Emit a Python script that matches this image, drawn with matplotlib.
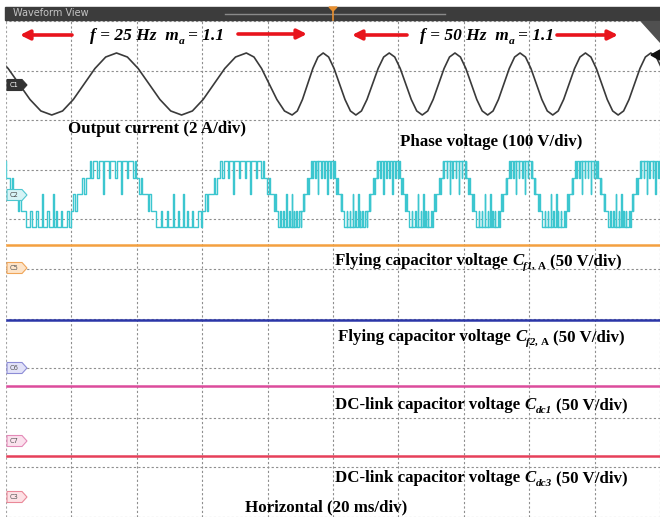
import matplotlib
matplotlib.use("Agg")
import matplotlib.pyplot as plt
from matplotlib.patches import Rectangle, Polygon

# scope screen: x in ms (20 ms/div), y in divisions (0 = bottom, 10 = top)
# output current: times of peaks/troughs (ms), first one is a peak
cur_ext_ms = [-6.0, 14.0, 33.8, 53.7, 73.5, 87.5, 97.0, 107.0, 117.2, 127.3,
              137.3, 147.3, 157.2, 167.2, 177.2, 187.2, 197.2, 207.2]
cur_center = 8.73
cur_amp = 0.625
# shape of one half cycle (fraction of half cycle, value)
cur_shape_f = [0.0, 0.167, 0.333, 0.5, 0.667, 0.833]
cur_shape_v = [1.0, 0.87, 0.5, 0.0, -0.5, -0.87]

# phase voltage: zero crossings (ms), first half cycle is positive
v_zero_ms = [-17.1, 2.7, 22.6, 42.4, 62.8, 81.4, 91.8, 101.8, 111.9, 121.6,
             132.0, 142.1, 152.4, 162.2, 172.6, 182.3, 192.4, 202.1]
v_center = 6.51
v_step = 0.333
pos_f = [0.00, 0.04, 0.06, 0.09, 0.15, 0.17, 0.20, 0.27, 0.29, 0.36, 0.375, 0.45, 0.47,
         0.55, 0.57, 0.64, 0.655, 0.73, 0.75, 0.82, 0.85, 0.87, 0.92, 0.95, 0.965]
pos_l = [0, 1, 0, 1, 2, 1, 2, 1, 2, 0, 2, 1, 2, 1, 2, 0, 2, 1, 2, 1, 2, 1, 0, 1, 0]
neg_f = [0.00, 0.05, 0.07, 0.10, 0.17, 0.24, 0.26, 0.33, 0.35, 0.42, 0.435, 0.50, 0.52,
         0.58, 0.595, 0.63, 0.65, 0.71, 0.73, 0.80, 0.84, 0.86, 0.90, 0.93, 0.95]
neg_l = [0, -1, 0, -1, -2, -1, -2, -1, -2, 0, -2, -1, -2, 0, -2, -1, -2, -1, -2, -1, -2, -1, 0, -1, 0]

# dc traces (div)
dc_names = ["Cf1", "Cf2", "Cdc1", "Cdc3"]
dc_levels = [5.48, 3.97, 2.64, 1.23]
dc_colors = ["#f4a040", "#2b36a8", "#dc4c9c", "#e6405a"]

# channel tags: label, y (px)
tag_labels = ["C1", "C2", "C5", "C6", "C7", "C3"]
tag_y = [85, 195, 268, 368, 441, 497]
tag_fc = ["#333333", "#d6f3f5", "#fde4c9", "#e2e2f8", "#fbe1ed", "#fde1e5"]
tag_ec = ["#333333", "#4fc6cf", "#f0a558", "#8c8cd6", "#e48ab8", "#ea8898"]
tag_tc = ["white", "#444444", "#555555", "#555555", "#555555", "#555555"]

# build traces
t_cur, y_cur = [], []
for k in range(len(cur_ext_ms) - 1):
    a, b = cur_ext_ms[k], cur_ext_ms[k + 1]
    s = 1 if k % 2 == 0 else -1
    for f, v in zip(cur_shape_f, cur_shape_v):
        t_cur.append(a + f * (b - a))
        y_cur.append(cur_center + s * v * cur_amp)
t_cur.append(cur_ext_ms[-1])
y_cur.append(cur_center - cur_amp)

t_v, y_v = [], []
for k in range(len(v_zero_ms) - 1):
    a, b = v_zero_ms[k], v_zero_ms[k + 1]
    ff, ll = (pos_f, pos_l) if k % 2 == 0 else (neg_f, neg_l)
    for f, l in zip(ff, ll):
        t_v.append(a + f * (b - a))
        y_v.append(v_center + l * v_step)
t_v.append(v_zero_ms[-1])
y_v.append(v_center)

fig = plt.figure(figsize=(6.6, 5.17), dpi=100)
ax = fig.add_axes([0, 0, 1, 496 / 517])
ax.set_xlim(-6 * 20 / 65.6, 654 * 20 / 65.6)
ax.set_ylim(0, 10)
ax.set_xticks(range(0, 201, 20))
ax.set_yticks(range(0, 11))
ax.tick_params(length=0, labelbottom=False, labelleft=False)
for sp in ax.spines.values():
    sp.set_visible(False)
ax.grid(True, color="#8e8e8e", ls=(0, (2, 2)), lw=0.8)
ax.set_axisbelow(True)

ax.plot(t_cur, y_cur, color="#3a3a3a", lw=1.2)
ax.step(t_v, y_v, where="post", color="#3cc6cf", lw=1.0)
for lv, c in zip(dc_levels, dc_colors):
    ax.plot([0, 200], [lv, lv], color=c, lw=1.8)

# overlay in pixel coordinates
ov = fig.add_axes([0, 0, 1, 1])
ov.set_xlim(0, 660)
ov.set_ylim(517, 0)
ov.axis("off")

ov.add_patch(Rectangle((0, 21), 5.4, 496, color="white", zorder=0))
ov.add_patch(Rectangle((5, 7), 655, 13, color="#3c3c3c", zorder=1))
ov.text(13, 13.5, "Waveform View", fontsize=7, color="#c4c4c4", va="center", ha="left")
ov.plot([225, 445], [13.5, 13.5], color="#8a8a8a", lw=1, zorder=2)
ov.add_patch(Polygon([(329, 7), (337, 7), (333, 11)], color="#e89030", zorder=3))
ov.plot([333, 333], [9, 20], color="#e89030", lw=1.2, zorder=3)
ov.add_patch(Polygon([(641, 21), (660, 21), (660, 42)], color="#505050", zorder=3))
ov.add_patch(Polygon([(651, 55), (660, 50), (660, 60)], color="#111111", zorder=3))

for lab, y, fc, ec, tc in zip(tag_labels, tag_y, tag_fc, tag_ec, tag_tc):
    ov.add_patch(Polygon([(7, y - 5.5), (22, y - 5.5), (27, y), (22, y + 5.5), (7, y + 5.5)],
                         closed=True, fc=fc, ec=ec, lw=0.8, zorder=5))
    ov.text(14.5, y + 0.3, lab, fontsize=4.8, ha="center", va="center", color=tc, zorder=6)

red = "#e8141c"
for tail, head, y in [(72, 20, 35), (238, 307, 34), (407, 352, 35), (557, 618, 35)]:
    ov.annotate("", xy=(head, y), xytext=(tail, y),
                arrowprops=dict(arrowstyle="-|>", color=red, lw=2.6,
                                mutation_scale=14, shrinkA=0, shrinkB=0))


def rich(x, y, parts, size=12.2):
    prev = None
    for s, it, sub, gap in parts:
        kw = dict(fontsize=size * 0.66 if sub else size, fontweight="bold",
                  fontstyle="italic" if it else "normal", family="Liberation Serif",
                  va="baseline", ha="left", color="black")
        if prev is None:
            prev = ov.text(x, y, s, **kw)
        else:
            prev = ov.annotate(s, xy=(1, y), xycoords=(prev, "data"),
                               xytext=(gap, -2.6 if sub else 0), textcoords="offset points", **kw)


rich(90, 40, [("f = 25 Hz  m", 1, 0, 0), ("a", 1, 1, 0), ("= 1.1", 1, 0, 2.5)], 12.5)
rich(420, 40, [("f = 50 Hz  m", 1, 0, 0), ("a", 1, 1, 0), ("= 1.1", 1, 0, 2.5)], 12.5)
rich(68, 133, [("Output current (2 A/div)", 0, 0, 0)])
rich(400, 146, [("Phase voltage (100 V/div)", 0, 0, 0)])
rich(335, 265, [("Flying capacitor voltage", 0, 0, 0), ("C", 1, 0, 3), ("f1,", 1, 1, 0),
                ("A", 0, 1, 1.5), ("(50 V/div)", 0, 0, 3)])
rich(338, 341, [("Flying capacitor voltage", 0, 0, 0), ("C", 1, 0, 3), ("f2,", 1, 1, 0),
                ("A", 0, 1, 1.5), ("(50 V/div)", 0, 0, 3)])
rich(335, 409, [("DC-link capacitor voltage", 0, 0, 0), ("C", 1, 0, 3), ("dc1", 1, 1, 0),
                ("(50 V/div)", 0, 0, 3)])
rich(335, 482, [("DC-link capacitor voltage", 0, 0, 0), ("C", 1, 0, 3), ("dc3", 1, 1, 0),
                ("(50 V/div)", 0, 0, 3)])
rich(245, 511, [("Horizontal (20 ms/div)", 0, 0, 0)])

fig.savefig("out.png", dpi=100)
